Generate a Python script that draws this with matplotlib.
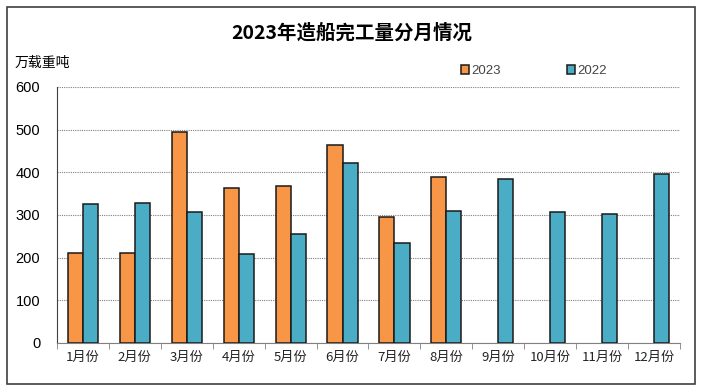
import numpy as np
import matplotlib
matplotlib.use('Agg')
import matplotlib.pyplot as plt
from matplotlib.patches import Rectangle

plt.rcParams['font.family'] = ['Noto Sans CJK SC', 'DejaVu Sans']

months = ['1月份', '2月份', '3月份', '4月份', '5月份', '6月份',
          '7月份', '8月份', '9月份', '10月份', '11月份', '12月份']
v2023 = [211, 211, 494, 363, 368, 464, 295, 389]
v2022 = [326, 328, 307, 209, 256, 422, 234, 309, 384, 307, 302, 396]

W, H = 703, 391
fig = plt.figure(figsize=(W / 100, H / 100), dpi=100)
ax = fig.add_axes([57 / W, 1 - 343 / H, (680 - 57) / W, (343 - 87) / H])

# outer frame
fig.patches.append(Rectangle((7 / W, 7 / H), (695 - 7) / W, (384 - 7) / H,
                             transform=fig.transFigure, fill=False,
                             edgecolor='#404040', linewidth=1.2))

x = np.arange(len(months))
bw = 0.29
ax.bar(x[:len(v2023)] - bw / 2, v2023, bw, color='#F79646',
       edgecolor='#1a1a1a', linewidth=1.1, label='2023', zorder=3)
ax.bar(x + bw / 2, v2022, bw, color='#4BACC6',
       edgecolor='#1a1a1a', linewidth=1.1, label='2022', zorder=3)

ax.set_xlim(-0.5, len(months) - 0.5)
ax.set_ylim(0, 600)
ax.set_yticks(range(0, 601, 100))
ax.tick_params(axis='y', length=0, labelsize=10.5, pad=12)
for t in ax.get_yticklabels():
    t.set_family('Liberation Sans')
ax.grid(axis='y', linestyle=(0, (1, 1)), color='#808080', linewidth=0.8, zorder=0)

ax.set_xticks(x)
ax.set_xticklabels(months, fontsize=9.5, color='#222222')
ax.tick_params(axis='x', length=0, pad=6)
ax.set_xticks(np.arange(-0.5, len(months)), minor=True)
ax.tick_params(axis='x', which='minor', length=4, direction='out', color='#808080')

for s in ['top', 'right']:
    ax.spines[s].set_visible(False)
ax.spines['left'].set_color('#404040')
ax.spines['bottom'].set_color('#808080')

fig.text(0.5, 1 - 33 / H, '2023年造船完工量分月情况', ha='center', va='center',
         fontsize=14, fontweight='bold')
fig.text(15 / W, 1 - 63 / H, '万载重吨', ha='left', va='center', fontsize=10)

leg = fig.legend(loc='center', bbox_to_anchor=(534 / W, 1 - 71 / H), ncol=2,
                 frameon=False, fontsize=9, handlelength=0.6, handleheight=0.6,
                 columnspacing=5, handletextpad=0.2,
                 prop={'family': 'Liberation Sans', 'size': 9.5})
for t in leg.get_texts():
    t.set_color('#444444')

fig.savefig('out.png', dpi=100)
